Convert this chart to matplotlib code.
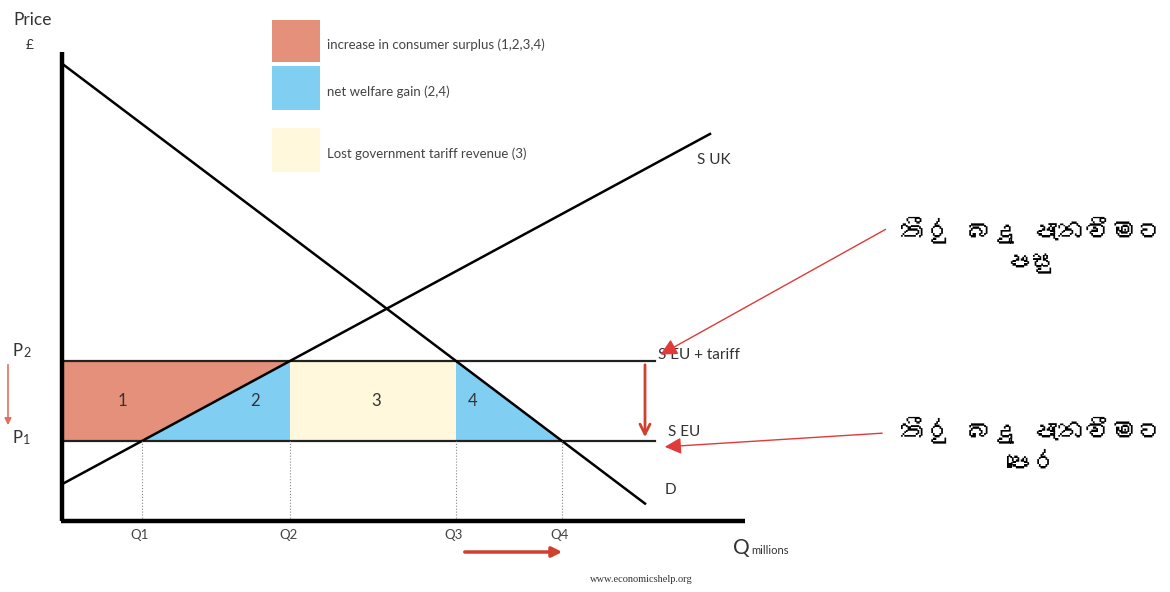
import numpy as np
import matplotlib
matplotlib.use('Agg')
import matplotlib.pyplot as plt
import matplotlib.font_manager as fm
from matplotlib.ft2font import FT2Font

# prices and quantities (chart units, origin at the axes corner)
P1 = 80
P2 = 160
q_labels = ['Q1', 'Q2', 'Q3', 'Q4']
Q = [80, 228, 394, 500]

# demand  P = d_a - d_b*Q , supply UK  P = s_a + s_b*Q
d_a, d_b = 457.4, 0.7547
s_a, s_b = 36.8, 0.5405
d_qmax = 583
s_qmax = 648
line_qmax = 593

legend_labels = ['increase in consumer surplus (1,2,3,4)',
                 'net welfare gain (2,4)',
                 'Lost government tariff revenue (3)']
c_orange = '#e5907a'
c_blue = '#80cff2'
c_yellow = '#fff8dc'
c_red = '#d0402f'

txt_after = 'තීරු බදු පැනවීමට\nපසු'
txt_before = 'තීරු බදු පැනවීමට\nපෙර'


def find_font(ch):
    for f in fm.fontManager.ttflist:
        try:
            if ord(ch) in FT2Font(f.fname).get_charmap():
                return f.name
        except Exception:
            pass
    return None

sinhala = find_font('ත')
fam = ['Lato', 'DejaVu Sans']
sfam = [sinhala, 'DejaVu Sans'] if sinhala else ['DejaVu Sans']

fig = plt.figure(figsize=(11.7, 5.92), dpi=100)
ax = fig.add_axes([0, 0, 1, 1])
ax.set_xlim(-62, 1108)
ax.set_ylim(-71, 521)
ax.axis('off')

# shaded areas
ax.fill([0, 0, Q[1], Q[0]], [P1, P2, P2, P1], color=c_orange, lw=0)
ax.fill([Q[0], Q[1], Q[1]], [P1, P2, P1], color=c_blue, lw=0)
ax.fill([Q[1], Q[1], Q[2], Q[2]], [P1, P2, P2, P1], color=c_yellow, lw=0)
ax.fill([Q[2], Q[2], Q[3]], [P2, P1, P1], color=c_blue, lw=0)

for x, n in zip([60, 193, 314, 411], ['1', '2', '3', '4']):
    ax.text(x, (P1 + P2) / 2, n, fontsize=12, ha='center', va='center',
            family=fam, color='#333333')

# price lines
ax.plot([0, line_qmax], [P2, P2], color='#222222', lw=1.6)
ax.plot([0, line_qmax], [P1, P1], color='#222222', lw=1.6)

# demand and supply
dq = np.array([0, d_qmax])
ax.plot(dq, d_a - d_b * dq, color='black', lw=1.8)
sq = np.array([0, s_qmax])
ax.plot(sq, s_a + s_b * sq, color='black', lw=1.8)

# dotted drops
for q in Q:
    ax.plot([q, q], [0, P1], color='#888888', lw=0.8, ls=':')

# axes
ax.plot([0, 0], [0, 469], color='black', lw=3.2, solid_capstyle='butt')
ax.plot([-1.5, 683], [0, 0], color='black', lw=3.2, solid_capstyle='butt')

for q, lab in zip(Q, q_labels):
    ax.text(q - 2, -14, lab, fontsize=9.5, ha='center', va='center',
            family=fam, color='#444444')

ax.text(-49, 501, 'Price', fontsize=12.5, ha='left', va='center', family=fam, color='#333333')
ax.text(-32, 476, '£', fontsize=10, ha='center', va='center', family=fam, color='#333333')
ax.text(-49, 170, 'P', fontsize=12, ha='left', va='center', family=fam, color='#333333')
ax.text(-39, 168, '2', fontsize=9, ha='left', va='center', family=fam, color='#333333')
ax.text(-49, 83, 'P', fontsize=12, ha='left', va='center', family=fam, color='#333333')
ax.text(-39, 81, '1', fontsize=9, ha='left', va='center', family=fam, color='#333333')
ax.text(671, -27, 'Q', fontsize=15, ha='left', va='center', family=fam, color='#333333')
ax.text(689, -29, 'millions', fontsize=8, ha='left', va='center', family=fam, color='#333333')
ax.text(579, -59, 'www.economicshelp.org', fontsize=7.5, ha='center', va='center',
        family='Liberation Serif', color='#333333')

ax.text(635, 361, 'S UK', fontsize=11, ha='left', va='center', family=fam, color='#333333')
ax.text(596, 166, 'S EU + tariff', fontsize=11, ha='left', va='center', family=fam, color='#333333')
ax.text(606, 89, 'S EU', fontsize=11, ha='left', va='center', family=fam, color='#333333')
ax.text(603, 31, 'D', fontsize=11, ha='left', va='center', family=fam, color='#333333')

# legend
for (y0, y1), col, lab in zip([(459, 501), (411, 455), (349, 393)],
                              [c_orange, c_blue, c_yellow], legend_labels):
    ax.fill([210, 258, 258, 210], [y0, y0, y1, y1], color=col, lw=0)
    ax.text(265, (y0 + y1) / 2 - 4, lab, fontsize=9.5, ha='left', va='center',
            family=fam, color='#444444')

# red arrows
ax.annotate('', xy=(-54, 93), xytext=(-54, P2 - 1),
            arrowprops=dict(arrowstyle='-|>', color='#e07060', lw=1.2, mutation_scale=10))
ax.annotate('', xy=(d_qmax, P1 + 1), xytext=(d_qmax, P2 - 1),
            arrowprops=dict(arrowstyle='->', color=c_red, lw=2, mutation_scale=18))
ax.annotate('', xy=(Q[3] + 3, -31), xytext=(Q[2] + 6, -31),
            arrowprops=dict(arrowstyle='-|>', color=c_red, lw=2.5, mutation_scale=15))
ax.annotate('', xy=(line_qmax + 3, P2 + 5), xytext=(826, 293),
            arrowprops=dict(arrowstyle='-|>', color='#e03a3a', lw=1, mutation_scale=25))
ax.annotate('', xy=(line_qmax + 7, P1 - 6), xytext=(823, 88),
            arrowprops=dict(arrowstyle='-|>', color='#e03a3a', lw=1, mutation_scale=25))

ax.text(970, 276, txt_after, fontsize=19, ha='center', va='center',
        multialignment='center', family=sfam, color='black', linespacing=1.5)
ax.text(970, 76, txt_before, fontsize=19, ha='center', va='center',
        multialignment='center', family=sfam, color='black', linespacing=1.5)

fig.savefig('out.png', dpi=100)
